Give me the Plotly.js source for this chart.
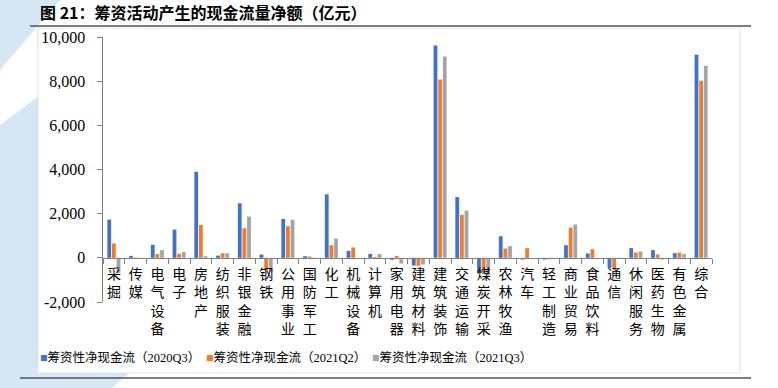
<!DOCTYPE html>
<html><head><meta charset="utf-8">
<script src="https://cdn.plot.ly/plotly-3.0.1.min.js"></script>
<style>html,body{margin:0;padding:0;background:#fff}#c{width:778px;height:388px}</style>
</head><body><div id="c"></div>
<script>
const categories = ["采掘","传媒","电气设备","电子","房地产","纺织服装","非银金融","钢铁","公用事业","国防军工","化工","机械设备","计算机","家用电器","建筑材料","建筑装饰","交通运输","煤炭开采","农林牧渔","汽车","轻工制造","商业贸易","食品饮料","通信","休闲服务","医药生物","有色金属","综合"];
const s2020Q3 = [1730,90,590,1280,3900,100,2470,150,1760,75,2880,320,180,-90,-350,9620,2750,-680,980,-75,-75,570,200,-470,440,350,210,9200];
const s2021Q2 = [650,20,170,180,1490,210,1340,-580,1430,60,570,470,40,90,-360,8080,1950,-720,420,440,-45,1370,390,-530,240,150,240,8020];
const s2021Q3 = [-680,5,350,260,75,210,1870,-620,1730,10,870,5,170,-260,-300,9120,2140,-800,530,5,-45,1510,5,-10,290,-75,170,8700];
const seriesNames = ["筹资性净现金流（2020Q3）","筹资性净现金流（2021Q2）","筹资性净现金流（2021Q3）"];
const yTickVals = [-2000,0,2000,4000,6000,8000,10000];
const yTickText = ["-2,000","0","2,000","4,000","6,000","8,000","10,000"];
const colors = ["#4472C4","#ED7D31","#A5A5A5"];

const L = 103, R = 712, T = 37, B = 302, W = 778, H = 388;
const pw = R - L, ph = B - T;
const px = x => (x - L) / pw;
const py = y => (B - y) / ph;

const vertLabels = categories.map(c => c.split("").join("<br>"));
const data = [s2020Q3, s2021Q2, s2021Q3].map((v, i) => ({
  type: "bar", x: categories, y: v, name: seriesNames[i],
  marker: {color: colors[i]}, showlegend: false
}));

const legendX = [38, 204, 370];
const annotations = seriesNames.map((n, i) => ({
  xref: "paper", yref: "paper", x: px(legendX[i]), y: py(357), xanchor: "left", yanchor: "middle",
  showarrow: false, align: "left",
  text: "<span style='color:" + colors[i] + "'>■</span>" + n,
  font: {size: 12.5, family: "Liberation Serif, Noto Sans CJK SC", color: "#000"}
}));

const blue = "#d5e7f5";
const layout = {
  width: W, height: H,
  margin: {l: L, r: W - R, t: T, b: H - B, pad: 0},
  paper_bgcolor: "#fff", plot_bgcolor: "rgba(0,0,0,0)",
  barmode: "group", bargap: 0.36, bargroupgap: 0.18,
  font: {family: "Liberation Serif, Noto Sans CJK SC", color: "#000"},
  title: {text: "<b>图 21：筹资活动产生的现金流量净额（亿元）</b>", x: 40 / W, xanchor: "left", xref: "container",
          y: 1 - 13 / H, yanchor: "middle", yref: "container",
          font: {size: 16, family: "Noto Sans CJK SC", color: "#000"}},
  xaxis: {
    type: "category", tickvals: categories, ticktext: vertLabels,
    anchor: "free", position: 2000 / 12000,
    showline: true, linecolor: "#808080", linewidth: 1.5,
    ticks: "outside", tickson: "boundaries", ticklen: 5, tickcolor: "#808080",
    showgrid: false, zeroline: false, tickangle: 0, ticklabelstandoff: 3,
    tickfont: {size: 14, family: "Noto Sans CJK SC", color: "#000"}
  },
  yaxis: {
    range: [-2000, 10000], tickvals: yTickVals, ticktext: yTickText,
    showline: true, linecolor: "#808080", linewidth: 1.5,
    ticks: "outside", ticklen: 5, tickcolor: "#808080",
    showgrid: false, zeroline: false, ticklabelstandoff: 8,
    tickfont: {size: 16, family: "Liberation Serif", color: "#000"}
  },
  showlegend: false,
  annotations: annotations,
  shapes: [
    {type: "path", xref: "paper", yref: "paper", layer: "below", line: {width: 0}, fillcolor: blue,
     path: "M" + px(0) + "," + py(0) + " L" + px(60) + "," + py(0) + " L" + px(0) + "," + py(70) + " Z"},
    {type: "path", xref: "paper", yref: "paper", layer: "below", line: {width: 0}, fillcolor: blue,
     path: "M" + px(0) + "," + py(125) + " L" + px(40) + "," + py(95) + " L" + px(40) + "," + py(388) + " L" + px(0) + "," + py(388) + " Z"},
    {type: "path", xref: "paper", yref: "paper", layer: "below", line: {width: 0}, fillcolor: blue,
     path: "M" + px(0) + "," + py(372) + " L" + px(130) + "," + py(372) + " L" + px(112) + "," + py(388) + " L" + px(0) + "," + py(388) + " Z"},
    {type: "rect", xref: "paper", yref: "paper", layer: "below", x0: px(38), x1: px(740), y0: py(28), y1: py(373),
     fillcolor: "#fff", line: {color: "#e6e6e6", width: 1.2}},
    {type: "line", xref: "paper", yref: "paper", x0: px(30), x1: px(751), y0: py(26), y1: py(26), line: {color: "#555", width: 1.5}},
    {type: "line", xref: "paper", yref: "paper", x0: px(20), x1: px(751), y0: py(378), y1: py(378), line: {color: "#555", width: 1.5}}
  ]
};
Plotly.newPlot("c", data, layout, {displayModeBar: false, staticPlot: true});
</script></body></html>
